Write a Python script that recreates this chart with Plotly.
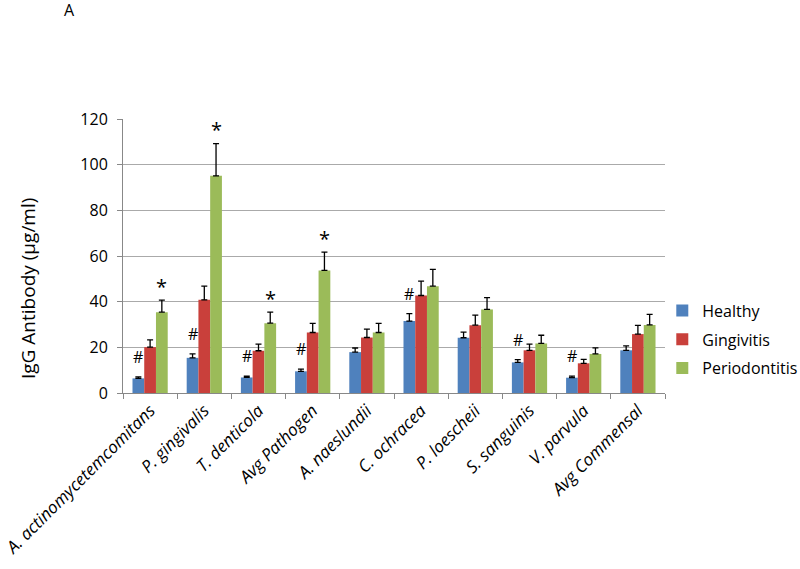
import plotly.graph_objects as go

categories = ["A. actinomycetemcomitans", "P. gingivalis", "T. denticola", "Avg Pathogen",
              "A. naeslundii", "C. ochracea", "P. loescheii", "S. sanguinis", "V. parvula",
              "Avg Commensal"]
healthy = [6.4, 15.4, 6.8, 9.5, 17.9, 31.5, 24.2, 13.4, 6.7, 18.7]
healthy_err = [0.7, 1.7, 0.6, 1.0, 1.8, 3.3, 2.5, 1.2, 0.7, 1.9]
gingivitis = [20.1, 40.8, 18.5, 26.5, 24.3, 42.7, 29.7, 18.7, 13.0, 25.8]
gingivitis_err = [3.2, 6.0, 2.9, 4.0, 3.7, 6.3, 4.4, 2.7, 1.7, 3.8]
periodontitis = [35.4, 95.1, 30.6, 53.7, 26.5, 46.8, 36.6, 21.7, 17.1, 29.8]
periodontitis_err = [5.3, 14.1, 4.8, 8.0, 4.0, 7.3, 5.2, 3.6, 2.7, 4.6]
hash_marks = [True, True, True, True, False, True, False, True, True, False]
star_marks = [True, True, True, True, False, False, False, False, False, False]
y_ticks = [0, 20, 40, 60, 80, 100, 120]

FONT = "Open Sans"
BARGAP = 0.35
bar_w = (1 - BARGAP) / 3

series = [
    ("Healthy", healthy, healthy_err, "#4F81BD"),
    ("Gingivitis", gingivitis, gingivitis_err, "#C9403B"),
    ("Periodontitis", periodontitis, periodontitis_err, "#9BBB59"),
]

fig = go.Figure()
for i, (name, vals, errs, col) in enumerate(series):
    fig.add_trace(go.Bar(
        name=name, x=categories, y=vals, marker=dict(color=col, line=dict(width=0)),
        legendgroup=name,
        error_y=dict(type="data", symmetric=False, array=errs, arrayminus=[0] * len(errs),
                     color="black", thickness=1.3, width=3),
    ))

annotations = []
for i, c in enumerate(categories):
    if hash_marks[i]:
        annotations.append(dict(x=i - bar_w, y=healthy[i] + healthy_err[i], xref="x", yref="y",
                                text="#", showarrow=False, yanchor="middle", yshift=20,
                                font=dict(family=FONT, size=16, color="black")))
    if star_marks[i]:
        annotations.append(dict(x=i + bar_w, y=periodontitis[i] + periodontitis_err[i],
                                xref="x", yref="y", text="*", showarrow=False,
                                yanchor="middle", yshift=14,
                                font=dict(family=FONT, size=20, color="black")))

annotations.append(dict(x=-0.175, y=0.38, xref="paper", yref="paper", text="IgG Antibody (µg/ml)",
                        textangle=-90, showarrow=False, xanchor="center", yanchor="middle",
                        font=dict(family=FONT, size=19, color="black")))
annotations.append(dict(x=-0.0996, y=1.446, xref="paper", yref="paper", text="A",
                        showarrow=False, xanchor="center", yanchor="top",
                        font=dict(family=FONT, size=16, color="black")))

fig.update_layout(
    width=800, height=569,
    margin=dict(l=123, r=135, t=119, b=176, autoexpand=False),
    paper_bgcolor="white", plot_bgcolor="white",
    barmode="group", bargap=BARGAP, bargroupgap=0,
    font=dict(family=FONT, color="black"),
    showlegend=True,
    legend=dict(x=0.995, y=0.195, xanchor="left", yanchor="middle",
                font=dict(family=FONT, size=16, color="black"),
                traceorder="grouped", tracegroupgap=5, bgcolor="rgba(0,0,0,0)"),
    annotations=annotations,
    xaxis=dict(type="category", showline=True, linecolor="#888888", linewidth=1,
               ticks="outside", tickson="boundaries", ticklen=5, tickcolor="#888888",
               tickangle=-45, automargin=False,
               tickfont=dict(family=FONT, size=17, color="black", style="italic"),
               showgrid=False),
    yaxis=dict(range=[0, 120], tickvals=y_ticks, showline=True, linecolor="#888888",
               linewidth=1, ticks="outside", ticklen=5, tickcolor="#888888",
               showgrid=True, gridcolor="#AAAAAA", gridwidth=1, zeroline=False,
               automargin=False, ticklabelstandoff=6,
               tickfont=dict(family=FONT, size=16, color="black")),
)

fig.write_html("out.html", config={"displayModeBar": False},
               post_script="document.body.style.margin='0';")
